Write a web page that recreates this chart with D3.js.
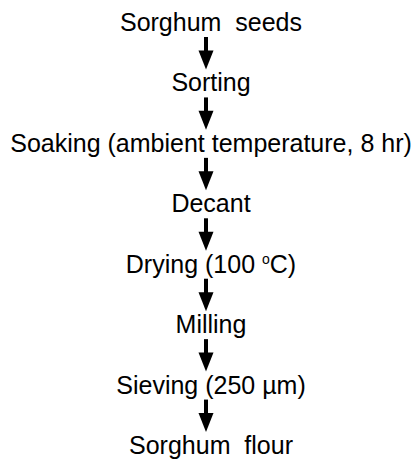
<!DOCTYPE html>
<html>
<head>
<meta charset="utf-8">
<script src="https://cdn.jsdelivr.net/npm/d3@7"></script>
<style>
  body { margin: 0; background: #fff; }
  text { font-family: "Liberation Sans", Arial, sans-serif; fill: #000; }
</style>
</head>
<body>
<div id="chart"></div>
<script>
// process steps, top to bottom
const steps = [
  "Sorghum  seeds",
  "Sorting",
  "Soaking (ambient temperature, 8 hr)",
  "Decant",
  "Drying (100 °C)",
  "Milling",
  "Sieving (250 µm)",
  "Sorghum  flour"
];

const width = 414;
const height = 459;

const svg = d3.select("#chart").append("svg")
  .attr("width", width)
  .attr("height", height);

const y = d3.scalePoint()
  .domain(steps)
  .range([31, 454]);

const textX = 211;
const arrowX = 206;

// labels
const labels = svg.selectAll(".step")
  .data(steps)
  .enter()
  .append("text")
  .attr("class", "step")
  .attr("x", textX)
  .attr("y", d => y(d))
  .attr("text-anchor", "middle")
  .style("font-size", "25px")
  .style("white-space", "pre")
  .attr("xml:space", "preserve");

labels.each(function(d) {
  const t = d3.select(this);
  if (d.includes("°C")) {
    const parts = d.split("°C");
    t.append("tspan").text(parts[0]);
    t.append("tspan").text("o").style("font-size", "14px").attr("dy", -9);
    t.append("tspan").text("C").attr("dy", 9);
    t.append("tspan").text(parts[1]);
  } else {
    t.text(d);
  }
});

// arrows between consecutive steps
const pairs = d3.pairs(steps);
const arrows = svg.selectAll(".arrow")
  .data(pairs)
  .enter()
  .append("g")
  .attr("class", "arrow");

arrows.append("line")
  .attr("x1", arrowX)
  .attr("x2", arrowX)
  .attr("y1", d => y(d[0]) + 6)
  .attr("y2", d => y(d[1]) - 38)
  .attr("stroke", "#000")
  .attr("stroke-width", 4);

arrows.append("path")
  .attr("d", d => {
    const tip = y(d[1]) - 22;
    return `M${arrowX - 7.5},${tip - 19}L${arrowX + 7.5},${tip - 19}L${arrowX},${tip}Z`;
  })
  .attr("fill", "#000");
</script>
</body>
</html>
